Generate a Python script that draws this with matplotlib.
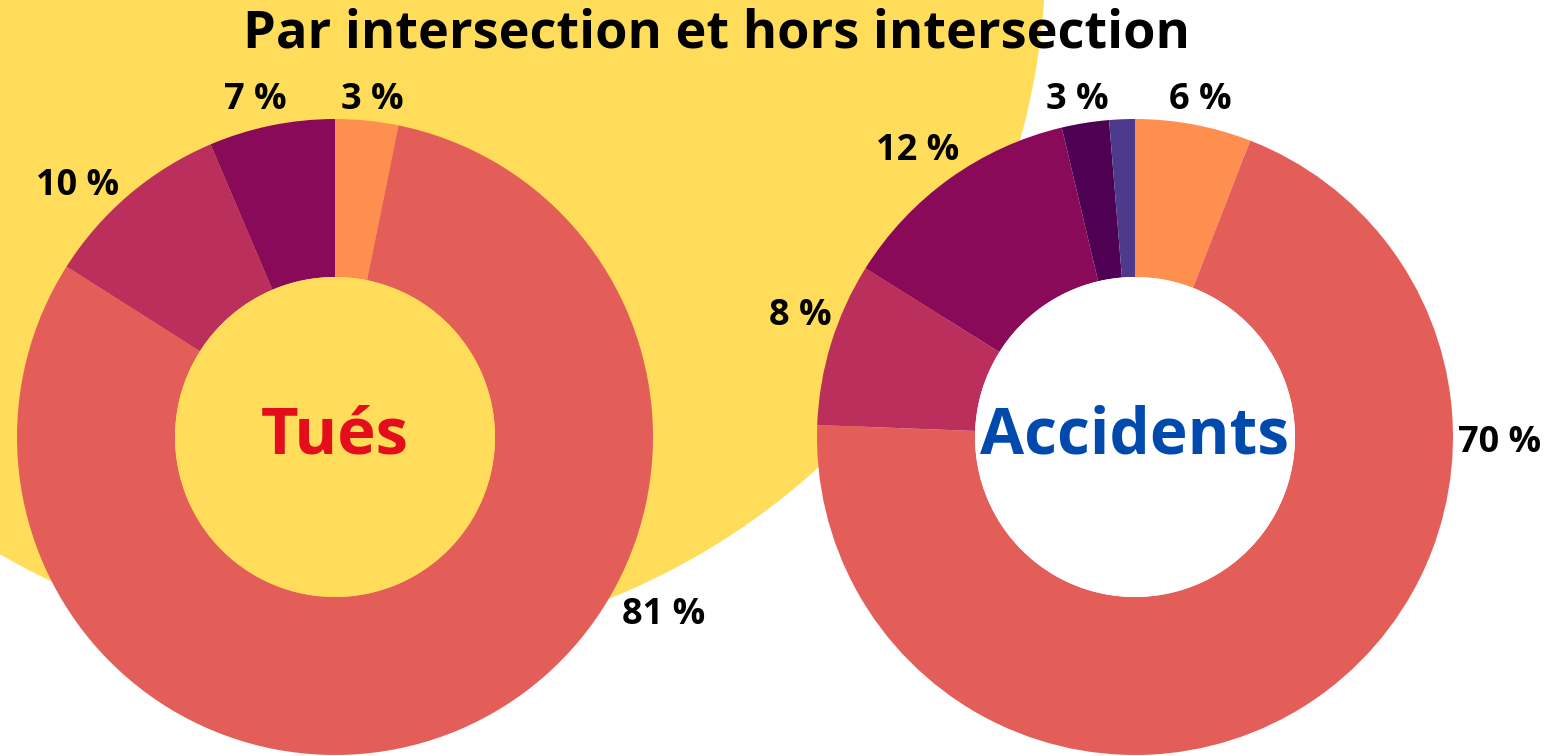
import matplotlib
matplotlib.use("Agg")
import matplotlib.pyplot as plt
from matplotlib.patches import Circle

plt.rcParams['font.family'] = ['Open Sans', 'DejaVu Sans']

title = "Par intersection et hors intersection"

# Tués (killed) shares, clockwise from top
tues_labels = ["3 %", "81 %", "10 %", "7 %"]
tues_values = [3.2, 80.8, 9.6, 6.4]
tues_colors = ["#FF8F4F", "#E45E59", "#BA2F5C", "#8A0A5A"]

# Accidents shares, clockwise from top
acc_labels = ["6 %", "70 %", "8 %", "12 %", "3 %", ""]
acc_values = [5.9, 69.7, 8.3, 12.4, 2.4, 1.3]
acc_colors = ["#FF8F4F", "#E45E59", "#BA2F5C", "#8A0A5A", "#4E0052", "#4E3A8C"]

# layout (pixel coordinates, y measured from top)
W, H = 1548, 756
tues_center = (335, 437)
acc_center = (1135, 437)
radius = 318
hole = 160
tues_label_pos = [(372, 100), (664, 615), (78, 186), (255, 100)]
acc_label_pos = [(1200, 100), (1500, 443), (800, 316), (918, 151), (1077, 100), (0, 0)]

fig = plt.figure(figsize=(W / 100, H / 100), dpi=100)
ax = fig.add_axes([0, 0, 1, 1])
ax.set_xlim(0, W)
ax.set_ylim(0, H)
ax.set_aspect('equal')
ax.axis('off')

def fy(y):
    return H - y

# big yellow background disc
ax.add_patch(Circle((350, fy(-47)), 695, color="#FFDD5A", zorder=0))

def donut(center, values, colors, labels, label_pos, hole_color):
    cx, cy = center
    ax.pie(values, colors=colors, startangle=90, counterclock=False,
           center=(cx, fy(cy)), radius=radius,
           wedgeprops=dict(width=radius - hole, linewidth=0), frame=True)
    ax.add_patch(Circle((cx, fy(cy)), hole, color=hole_color, zorder=1, lw=0))
    for lab, (x, y) in zip(labels, label_pos):
        if lab:
            ax.text(x, fy(y), lab, ha='center', va='center', fontsize=26,
                    fontweight='bold', color='black', zorder=3)

donut(tues_center, tues_values, tues_colors, tues_labels, tues_label_pos, "#FFDD5A")
donut(acc_center, acc_values, acc_colors, acc_labels, acc_label_pos, "white")

ax.set_xlim(0, W)
ax.set_ylim(0, H)
ax.axis('off')

ax.text(tues_center[0], fy(437), "Tués", ha='center', va='center', fontsize=47,
        fontweight='bold', color="#E30D1B", zorder=4)
ax.text(acc_center[0], fy(437), "Accidents", ha='center', va='center', fontsize=46,
        fontweight='bold', color="#004AAD", zorder=4)

ax.text(716, fy(48), title, ha='center', va='baseline', fontsize=37.6,
        fontweight='bold', color='black', zorder=4)

fig.savefig("out.png", dpi=100)
